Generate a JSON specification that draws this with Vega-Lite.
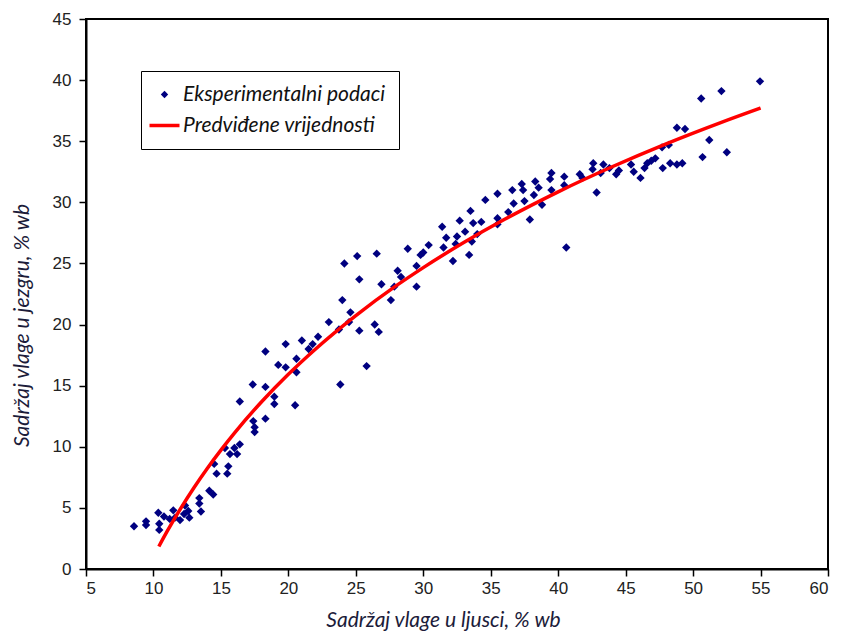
{
  "$schema": "https://vega.github.io/schema/vega-lite/v6.json",
  "width": 742,
  "height": 550,
  "autosize": {"type": "none"},
  "padding": {"left": 86, "top": 19, "right": 14, "bottom": 62},
  "background": "white",
  "config": {
    "view": {"stroke": "black", "strokeWidth": 2},
    "axis": {
      "grid": false,
      "domainColor": "black",
      "domainWidth": 2,
      "tickColor": "black",
      "tickWidth": 1.5,
      "tickSize": 7,
      "labelFont": "Liberation Sans",
      "labelFontSize": 17,
      "labelColor": "#222222",
      "titleFont": "Lato",
      "titleFontStyle": "italic",
      "titleFontWeight": "normal",
      "titleFontSize": 21,
      "titleColor": "#1c1c3a"
    }
  },
  "datasets": {
    "exp": [
      {"x": 8.56, "y": 3.5}, {"x": 9.45, "y": 3.9}, {"x": 9.45, "y": 3.6}, {"x": 10.36, "y": 4.6},
      {"x": 10.43, "y": 3.7}, {"x": 10.43, "y": 3.2}, {"x": 10.78, "y": 4.3}, {"x": 11.2, "y": 4.1},
      {"x": 11.47, "y": 4.8}, {"x": 11.6, "y": 4.2}, {"x": 11.97, "y": 4.0}, {"x": 12.27, "y": 4.5},
      {"x": 12.34, "y": 5.2}, {"x": 12.58, "y": 4.75}, {"x": 12.66, "y": 4.2}, {"x": 13.4, "y": 5.8},
      {"x": 13.4, "y": 5.35}, {"x": 13.52, "y": 4.7}, {"x": 14.14, "y": 6.4}, {"x": 14.43, "y": 6.1},
      {"x": 14.5, "y": 8.6}, {"x": 14.68, "y": 7.8}, {"x": 15.3, "y": 9.9}, {"x": 15.55, "y": 8.4},
      {"x": 15.47, "y": 7.8}, {"x": 15.67, "y": 9.4}, {"x": 16.0, "y": 9.9}, {"x": 16.2, "y": 9.4},
      {"x": 16.4, "y": 10.2}, {"x": 17.5, "y": 11.6}, {"x": 17.5, "y": 11.2},
      {"x": 16.4, "y": 13.7}, {"x": 17.36, "y": 15.1}, {"x": 17.4, "y": 12.1}, {"x": 18.3, "y": 12.3},
      {"x": 18.3, "y": 14.9}, {"x": 18.3, "y": 17.8}, {"x": 18.96, "y": 14.1}, {"x": 18.96, "y": 13.5},
      {"x": 19.25, "y": 16.7}, {"x": 19.8, "y": 16.5}, {"x": 19.8, "y": 18.4}, {"x": 20.5, "y": 13.4},
      {"x": 20.6, "y": 17.2}, {"x": 20.6, "y": 16.1}, {"x": 21.0, "y": 18.7}, {"x": 21.5, "y": 18.0},
      {"x": 21.8, "y": 18.4}, {"x": 22.2, "y": 19.0}, {"x": 23.0, "y": 20.2}, {"x": 23.75, "y": 19.6},
      {"x": 23.85, "y": 15.1}, {"x": 24.0, "y": 22.0}, {"x": 24.15, "y": 25.0}, {"x": 24.5, "y": 20.2},
      {"x": 24.6, "y": 21.0}, {"x": 25.1, "y": 25.6}, {"x": 25.26, "y": 23.7}, {"x": 25.26, "y": 19.5},
      {"x": 25.8, "y": 16.6}, {"x": 26.4, "y": 20.0}, {"x": 26.55, "y": 25.8}, {"x": 26.7, "y": 19.4},
      {"x": 26.9, "y": 23.3}, {"x": 27.85, "y": 23.1}, {"x": 27.6, "y": 22.0}, {"x": 28.1, "y": 24.4},
      {"x": 28.35, "y": 23.9}, {"x": 28.85, "y": 26.2}, {"x": 29.5, "y": 24.8}, {"x": 29.5, "y": 23.1},
      {"x": 29.8, "y": 25.7}, {"x": 30.0, "y": 25.9}, {"x": 30.4, "y": 26.5}, {"x": 31.4, "y": 28.0},
      {"x": 31.5, "y": 26.3}, {"x": 31.7, "y": 27.1}, {"x": 32.2, "y": 25.2}, {"x": 32.4, "y": 26.6},
      {"x": 32.5, "y": 27.2}, {"x": 32.7, "y": 28.5}, {"x": 33.1, "y": 27.6}, {"x": 33.4, "y": 25.7},
      {"x": 33.5, "y": 29.3}, {"x": 33.6, "y": 26.8}, {"x": 33.7, "y": 28.3}, {"x": 34.0, "y": 27.4},
      {"x": 34.3, "y": 28.4}, {"x": 34.6, "y": 30.2}, {"x": 35.5, "y": 30.7}, {"x": 35.5, "y": 28.7},
      {"x": 35.5, "y": 28.2}, {"x": 36.3, "y": 29.2}, {"x": 36.6, "y": 31.0}, {"x": 36.7, "y": 29.9},
      {"x": 37.3, "y": 31.5}, {"x": 37.4, "y": 31.0}, {"x": 37.5, "y": 30.1}, {"x": 37.9, "y": 28.6},
      {"x": 38.2, "y": 30.6}, {"x": 38.3, "y": 31.7}, {"x": 38.55, "y": 31.2}, {"x": 38.8, "y": 29.8},
      {"x": 39.5, "y": 32.4}, {"x": 39.4, "y": 31.9}, {"x": 39.5, "y": 31.0}, {"x": 40.45, "y": 32.1},
      {"x": 40.45, "y": 31.4}, {"x": 40.6, "y": 26.3},
      {"x": 41.6, "y": 32.3}, {"x": 41.8, "y": 32.0}, {"x": 42.6, "y": 33.2}, {"x": 42.55, "y": 32.7},
      {"x": 42.85, "y": 30.8}, {"x": 43.15, "y": 32.4}, {"x": 43.35, "y": 33.1}, {"x": 43.8, "y": 32.8},
      {"x": 44.3, "y": 32.3}, {"x": 44.5, "y": 32.6}, {"x": 45.4, "y": 33.1}, {"x": 45.6, "y": 32.5},
      {"x": 46.1, "y": 32.0}, {"x": 46.4, "y": 32.8}, {"x": 46.6, "y": 33.2}, {"x": 46.9, "y": 33.4},
      {"x": 47.2, "y": 33.6}, {"x": 47.7, "y": 34.5}, {"x": 47.75, "y": 32.8}, {"x": 48.2, "y": 34.7},
      {"x": 48.3, "y": 33.2}, {"x": 48.8, "y": 33.1}, {"x": 49.2, "y": 33.2}, {"x": 48.8, "y": 36.1},
      {"x": 49.4, "y": 36.0}, {"x": 50.6, "y": 38.5}, {"x": 50.7, "y": 33.7}, {"x": 51.2, "y": 35.1},
      {"x": 52.1, "y": 39.1}, {"x": 52.5, "y": 34.1}, {"x": 54.96, "y": 39.9}
    ],
    "pred": [
      {"x": 10.4, "y": 1.84}, {"x": 11, "y": 3.05}, {"x": 12, "y": 4.92}, {"x": 13, "y": 6.65},
      {"x": 14, "y": 8.25}, {"x": 15, "y": 9.73}, {"x": 16, "y": 11.12}, {"x": 18, "y": 13.66},
      {"x": 20, "y": 15.93}, {"x": 22, "y": 17.98}, {"x": 25, "y": 20.73}, {"x": 28, "y": 23.18},
      {"x": 30, "y": 24.66}, {"x": 33, "y": 26.71}, {"x": 36, "y": 28.59}, {"x": 40, "y": 30.86},
      {"x": 44, "y": 32.91}, {"x": 48, "y": 34.79}, {"x": 52, "y": 36.51}, {"x": 55, "y": 37.72}
    ]
  },
  "encoding": {
    "x": {
      "field": "x", "type": "quantitative",
      "scale": {"domain": [5, 60], "nice": false, "zero": false},
      "axis": {
        "title": "Sadržaj vlage u ljusci, % wb",
        "values": [5, 10, 15, 20, 25, 30, 35, 40, 45, 50, 55, 60],
        "labelPadding": 4,
        "titleX": 357, "titleY": 51, "titleBaseline": "middle"
      }
    },
    "y": {
      "field": "y", "type": "quantitative",
      "scale": {"domain": [0, 45], "nice": false},
      "axis": {
        "title": "Sadržaj vlage u jezgru, % wb",
        "values": [0, 5, 10, 15, 20, 25, 30, 35, 40, 45],
        "labelPadding": 8,
        "titleX": -64, "titleY": 306, "titleBaseline": "middle"
      }
    },
    "color": {
      "field": "series", "type": "nominal",
      "scale": {"domain": ["Eksperimentalni podaci", "Predviđene vrijednosti"], "range": ["#000080", "#ff0000"]},
      "legend": {
        "title": null,
        "orient": "none",
        "legendX": 55,
        "legendY": 52,
        "strokeColor": "black",
        "fillColor": "white",
        "padding": 13,
        "rowPadding": 9,
        "labelFont": "Lato",
        "labelFontStyle": "italic",
        "labelFontSize": 21,
        "labelColor": "#111111",
        "labelLimit": 0,
        "labelOffset": 8,
        "symbolSize": 400,
        "symbolStrokeWidth": 3,
        "encode": {
          "symbols": {
            "update": {
              "shape": {"signal": "datum.index === 1 ? 'stroke' : 'diamond'"},
              "size": {"signal": "datum.index === 1 ? 900 : 55"},
              "strokeWidth": {"signal": "datum.index === 1 ? 3.5 : 0"},
              "fill": {"signal": "datum.index === 1 ? 'transparent' : '#000080'"},
              "stroke": {"signal": "datum.index === 1 ? '#ff0000' : '#000080'"},
              "opacity": {"value": 1}
            }
          }
        }
      }
    }
  },
  "layer": [
    {
      "data": {"name": "exp"},
      "transform": [{"calculate": "'Eksperimentalni podaci'", "as": "series"}],
      "mark": {"type": "point", "shape": "diamond", "filled": true, "size": 70, "opacity": 1}
    },
    {
      "data": {"name": "pred"},
      "transform": [{"calculate": "'Predviđene vrijednosti'", "as": "series"}],
      "mark": {"type": "line", "strokeWidth": 3.5, "interpolate": "monotone"}
    }
  ]
}
